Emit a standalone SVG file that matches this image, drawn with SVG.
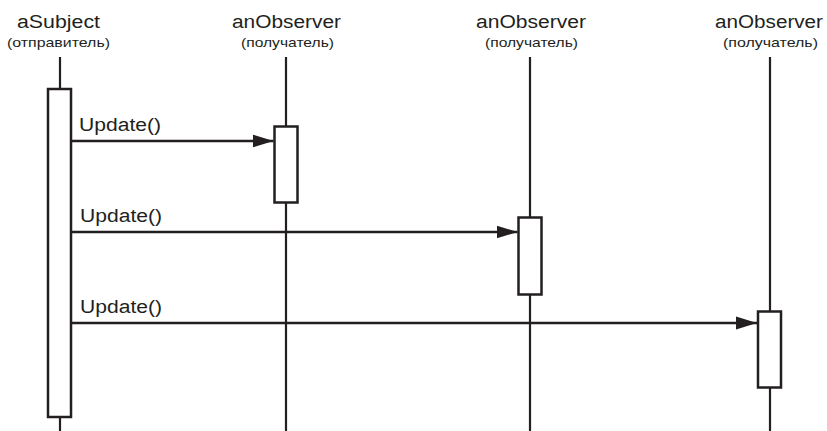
<svg xmlns="http://www.w3.org/2000/svg" width="827" height="431" viewBox="0 0 827 431">
<style>
.life{stroke:#231f20;stroke-width:2.2;fill:none}
.act{stroke:#231f20;stroke-width:2.5;fill:#fff}
.msg{stroke:#231f20;stroke-width:2.5;fill:none}
.t{font-family:"Liberation Sans",Arial,sans-serif;fill:#231f20}
.h{font-size:18px}
.s{font-size:13px}
.u{font-size:18px}
</style>
<defs>
<marker id="ah" markerUnits="userSpaceOnUse" markerWidth="22" markerHeight="14" refX="21" refY="6.5" orient="auto" viewBox="0 0 22 13">
<path d="M0,0 L21,6.5 L0,13 z" fill="#231f20"/>
</marker>
</defs>
<rect width="827" height="431" fill="#fff"/>
<g id="subject">
<line class="life" x1="60" y1="57" x2="60" y2="431"/>
<rect class="act" x="48" y="89" width="23" height="328"/>
<text class="t h" x="17" y="28" textLength="83" lengthAdjust="spacingAndGlyphs">aSubject</text>
<text class="t s" x="7" y="47" textLength="103" lengthAdjust="spacingAndGlyphs">(отправитель)</text>
</g>
<g id="observer1">
<line class="life" x1="286" y1="57" x2="286" y2="431"/>
<rect class="act" x="274.5" y="126.5" width="23" height="76"/>
<text class="t h" x="232" y="28" textLength="109" lengthAdjust="spacingAndGlyphs">anObserver</text>
<text class="t s" x="241" y="47" textLength="93" lengthAdjust="spacingAndGlyphs">(получатель)</text>
</g>
<g id="observer2">
<line class="life" x1="530" y1="57" x2="530" y2="431"/>
<rect class="act" x="518.5" y="217.5" width="23" height="77"/>
<text class="t h" x="476" y="28" textLength="110" lengthAdjust="spacingAndGlyphs">anObserver</text>
<text class="t s" x="485" y="47" textLength="93" lengthAdjust="spacingAndGlyphs">(получатель)</text>
</g>
<g id="observer3">
<line class="life" x1="770" y1="57" x2="770" y2="431"/>
<rect class="act" x="758" y="311.5" width="23" height="76"/>
<text class="t h" x="715" y="28" textLength="108" lengthAdjust="spacingAndGlyphs">anObserver</text>
<text class="t s" x="723" y="47" textLength="95" lengthAdjust="spacingAndGlyphs">(получатель)</text>
</g>
<g id="connectors">
<line class="msg" x1="72" y1="141" x2="273.5" y2="141" marker-end="url(#ah)"/>
<text class="t u" x="79" y="131" textLength="82" lengthAdjust="spacingAndGlyphs">Update()</text>
<line class="msg" x1="72" y1="232" x2="517.5" y2="232" marker-end="url(#ah)"/>
<text class="t u" x="80" y="222" textLength="82" lengthAdjust="spacingAndGlyphs">Update()</text>
<line class="msg" x1="72" y1="323" x2="757" y2="323" marker-end="url(#ah)"/>
<text class="t u" x="80" y="313" textLength="82" lengthAdjust="spacingAndGlyphs">Update()</text>
</g>
</svg>
